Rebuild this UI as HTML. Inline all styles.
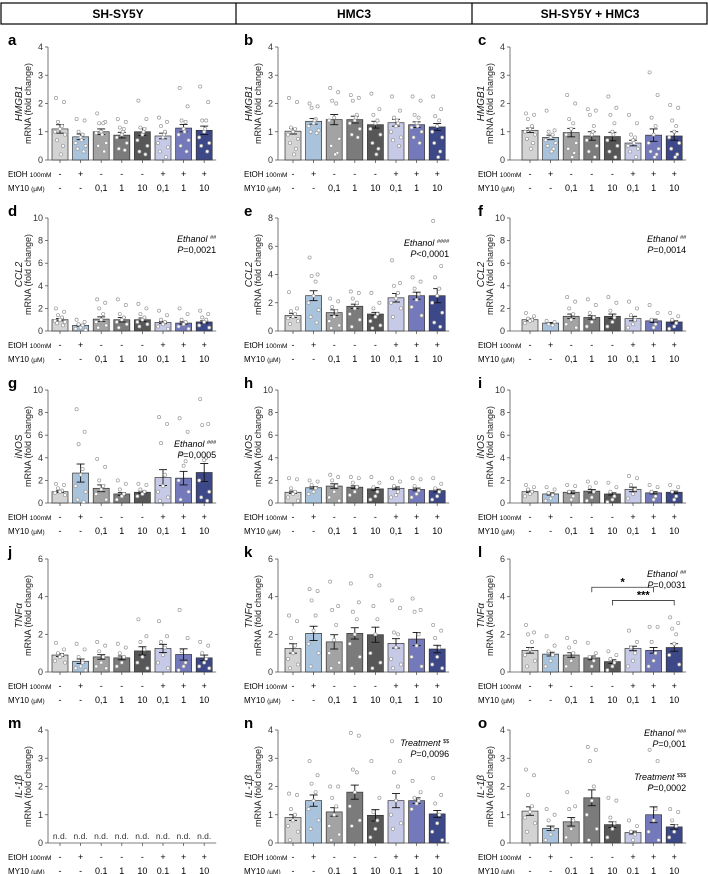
<!DOCTYPE html>
<html><head><meta charset="utf-8">
<style>
html,body{margin:0;padding:0;background:#fff;}
svg{display:block;font-family:"Liberation Sans",Arial,sans-serif;}
</style></head>
<body>
<svg id="fig" width="708" height="874" viewBox="0 0 708 874">
  <g>
    <rect x="1" y="3" width="706" height="21" fill="none" stroke="#000" stroke-width="1.2"/>
    <line x1="236" y1="3" x2="236" y2="24" stroke="#000" stroke-width="1.2"/>
    <line x1="472" y1="3" x2="472" y2="24" stroke="#000" stroke-width="1.2"/>
    <text x="118" y="18" text-anchor="middle" font-size="12" font-weight="bold">SH-SY5Y</text>
    <text x="354" y="18" text-anchor="middle" font-size="12" font-weight="bold">HMC3</text>
    <text x="590" y="18" text-anchor="middle" font-size="12" font-weight="bold">SH-SY5Y + HMC3</text>
  </g>
</svg>
<script>
// ---- data ----
const groups = ["ctrl","EtOH","MY10 0.1","MY10 1","MY10 10","EtOH+MY10 0.1","EtOH+MY10 1","EtOH+MY10 10"];
const etohLabels = ["-","+","-","-","-","+","+","+"];
const my10Labels = ["-","-","0,1","1","10","0,1","1","10"];
const panelIds = ["a","b","c","d","e","f","g","h","i","j","k","l","m","n","o"];
const genes = ["HMGB1","HMGB1","HMGB1","CCL2","CCL2","CCL2","iNOS","iNOS","iNOS","TNFα","TNFα","TNFα","IL-1β","IL-1β","IL-1β"];
const yMaxes = [4,4,4,10,8,10,10,10,10,6,6,6,4,4,4];
const yStepsArr = [1,1,1,2,2,2,2,2,2,2,2,2,1,1,1];
const means = [
 [1.1,0.82,1.0,0.88,1.0,0.85,1.13,1.05],
 [1.02,1.37,1.43,1.43,1.25,1.32,1.25,1.17],
 [1.05,0.8,0.97,0.85,0.83,0.6,0.88,0.85],
 [1.0,0.5,1.05,1.0,1.0,0.75,0.7,0.8],
 [1.1,2.5,1.3,1.75,1.2,2.35,2.5,2.5],
 [1.0,0.7,1.3,1.2,1.3,1.1,0.9,0.8],
 [1.0,2.65,1.3,0.8,0.95,2.25,2.2,2.7],
 [0.95,1.35,1.5,1.4,1.25,1.3,1.2,1.1],
 [1.0,0.8,0.95,1.05,0.8,1.2,0.9,0.95],
 [0.9,0.57,0.8,0.75,1.12,1.25,0.93,0.75],
 [1.25,2.05,1.6,2.05,1.98,1.52,1.75,1.22],
 [1.15,0.95,0.9,0.75,0.55,1.25,1.15,1.3],
 null,
 [0.9,1.5,1.1,1.8,0.98,1.5,1.5,1.03],
 [1.13,0.52,0.75,1.6,0.65,0.37,1.0,0.57]
];
const sems = [
 [.15,.1,.1,.1,.13,.1,.13,.15],
 [.1,.1,.18,.12,.12,.12,.1,.12],
 [.08,.08,.15,.15,.15,.1,.22,.15],
 [.1,.08,.2,.2,.15,.1,.1,.1],
 [.15,.35,.2,.15,.12,.3,.25,.5],
 [.1,.05,.2,.15,.2,.2,.15,.1],
 [.08,.8,.3,.12,.1,.7,.6,.8],
 [.1,.1,.2,.12,.12,.12,.12,.12],
 [.08,.1,.12,.15,.1,.2,.1,.1],
 [.08,.12,.12,.1,.22,.22,.3,.15],
 [.25,.38,.38,.3,.4,.25,.35,.2],
 [.15,.1,.12,.1,.1,.12,.15,.2],
 null,
 [.1,.2,.15,.25,.2,.25,.1,.12],
 [.15,.08,.15,.28,.1,.05,.28,.08]
];
const dots = [
 [[2.2,2.05,1.35,1.2,1.1,1.0,0.9,0.7,0.5,0.2],[1.45,1.4,1.0,0.9,0.8,0.6,0.5,0.4,0.3,0.7],[1.65,1.35,1.3,1.3,1.0,0.95,0.6,0.5,0.3,0.9],[1.45,1.35,1.15,1.1,0.9,0.8,0.6,0.4,0.35,1.0],[2.1,1.45,1.15,1.1,0.9,0.7,0.5,0.3,0.2,1.0],[1.5,1.35,1.2,1.0,0.8,0.6,0.45,0.3,0.1,0.9],[2.55,1.9,1.4,1.35,1.1,0.9,0.7,0.5,0.3,1.0],[2.6,2.05,1.4,1.4,1.0,0.8,0.6,0.5,0.3,1.1]],
 [[2.2,2.05,1.15,1.1,1.0,0.9,0.75,0.6,0.4,0.2],[2.0,1.9,1.85,1.45,1.3,1.2,1.05,1.0,0.95,1.4],[2.55,2.4,2.1,2.0,1.5,1.4,0.75,0.5,0.25,0.2],[2.3,2.2,2.1,1.6,1.4,1.3,1.1,0.9,0.8,1.5],[2.35,1.8,1.6,1.4,1.3,1.1,0.9,0.6,0.4,0.2],[2.25,1.75,1.5,1.3,1.2,1.0,0.8,0.7,0.5,1.4],[2.25,2.1,1.6,1.5,1.3,1.15,1.0,0.8,0.6,1.2],[2.25,1.8,1.55,1.4,1.2,1.0,0.8,0.6,0.3,0.1]],
 [[1.65,1.6,1.45,1.2,1.1,1.0,0.9,0.75,0.6,0.4],[1.75,1.05,1.0,0.9,0.8,0.7,0.6,0.5,0.4,0.3],[2.3,2.0,1.45,1.3,1.1,0.9,0.6,0.4,0.25,0.1],[1.8,1.75,1.6,1.2,0.9,0.7,0.5,0.3,0.1,1.0],[2.25,1.85,1.6,1.3,1.0,0.7,0.5,0.3,0.1,0.9],[1.6,1.3,0.9,0.8,0.7,0.5,0.4,0.3,0.1,0.6],[3.1,2.3,1.5,1.2,0.9,0.6,0.4,0.3,0.2,0.1],[1.95,1.85,1.4,1.2,1.0,0.8,0.6,0.4,0.2,0.1]],
 [[2.0,1.7,1.4,1.2,1.0,0.9,0.8,0.7,0.5],[1.0,0.8,0.6,0.5,0.3,0.2,0.1],[2.8,2.5,2.0,1.5,1.0,0.8,0.5,0.3],[2.8,2.3,1.5,1.2,1.0,0.8,0.6,0.3],[2.4,2.0,1.5,1.2,1.0,0.8,0.6,0.4],[1.8,1.4,1.0,0.8,0.6,0.4,0.2],[2.0,1.5,1.0,0.8,0.6,0.4,0.2],[1.8,1.5,1.2,1.0,0.8,0.5,0.3]],
 [[2.75,1.6,1.4,1.2,1.0,0.9,0.7,0.5],[5.2,4.0,3.9,3.5,2.5,2.0,1.5,1.0,0.6],[2.3,2.1,1.7,1.4,1.0,0.7,0.4,0.2],[2.8,2.7,2.3,2.0,1.6,1.2,0.8,0.3],[2.7,2.0,1.6,1.2,1.0,0.7,0.4,0.2],[5.0,3.4,3.2,2.7,2.3,2.0,1.6,1.0],[3.8,3.5,3.0,2.6,2.2,1.7,1.1],[7.8,4.6,3.8,3.0,2.5,2.0,1.3,0.6,0.3]],
 [[1.6,1.3,1.1,1.0,0.9,0.7],[0.9,0.8,0.6,0.5],[3.0,2.6,2.0,1.5,1.0,0.6,0.3],[2.8,2.3,1.6,1.2,0.8,0.4],[3.0,2.5,1.8,1.2,0.8,0.4],[2.6,2.0,1.4,1.0,0.6,0.3],[2.3,1.6,1.0,0.6,0.3],[1.6,1.3,1.0,0.7,0.4,0.2]],
 [[1.7,1.6,1.3,1.1,1.0,0.9,0.7],[8.3,6.3,5.2,3.0,2.5,1.5,1.0,0.3,0.1],[3.9,3.2,2.0,1.5,1.2,0.8,0.3],[2.0,1.7,1.2,0.8,0.6,0.3],[1.7,1.6,1.2,1.0,0.8,0.6],[7.6,7.0,5.3,2.5,1.5,1.0,0.5,0.2],[7.5,6.3,4.3,3.7,3.3,2.0,1.0,0.3],[9.2,7.0,6.9,4.0,3.8,2.0,1.0,0.5,0.2]],
 [[2.2,2.1,1.3,1.0,0.8,0.5,0.2],[2.0,1.9,1.6,1.3,1.0,0.8],[2.5,2.3,2.0,1.5,1.0,0.5,0.2],[2.3,2.2,1.8,1.4,1.0,0.7],[2.3,1.8,1.4,1.0,0.6,0.3],[2.2,1.9,1.5,1.0,0.7,0.5],[2.2,2.1,1.5,1.1,0.8,0.5],[2.2,1.7,1.3,1.0,0.6,0.3]],
 [[1.6,1.4,1.2,1.0,0.8,0.6],[1.4,1.2,0.9,0.7,0.4,0.2],[1.6,1.5,1.0,0.6,0.3],[1.9,1.8,1.4,1.0,0.5,0.2],[1.8,1.4,1.0,0.6,0.3,0.1],[2.4,2.2,1.6,1.2,0.8,0.4],[1.6,1.4,1.0,0.6,0.3],[1.6,1.4,1.0,0.6,0.3]],
 [[1.55,1.2,1.0,0.9,0.8,0.6,0.5],[1.5,1.2,0.8,0.5,0.3,0.2,0.1],[1.6,1.4,1.1,0.8,0.5,0.3,0.2],[1.5,1.3,1.0,0.8,0.5,0.3],[2.8,1.9,1.6,1.2,0.8,0.5,0.2],[2.7,1.9,1.6,1.3,0.9,0.5,0.2],[3.3,1.8,1.1,0.5,0.3,0.1],[1.6,1.4,1.0,0.7,0.5,0.3,0.2]],
 [[3.0,2.7,1.8,1.4,1.0,0.7,0.4,0.2],[4.4,4.3,3.8,3.0,2.2,1.5,1.0,0.3],[4.8,3.5,3.3,2.5,1.7,1.0,0.5,0.2],[4.7,3.7,3.2,2.8,2.0,1.5,0.8,0.2],[5.1,4.6,3.5,2.8,2.0,1.0,0.5,0.2],[3.8,3.4,2.1,2.0,1.3,0.7,0.4,0.2],[3.9,3.3,3.2,2.0,1.4,0.8,0.3],[2.5,2.2,1.8,1.3,0.8,0.4,0.2]],
 [[2.5,2.1,2.0,1.6,1.2,0.9,0.6,0.3],[1.9,1.4,1.1,0.9,0.6,0.3],[1.8,1.6,1.3,1.0,0.6,0.3],[1.55,1.0,0.8,0.6,0.3],[1.1,0.9,0.7,0.5,0.3,0.1],[2.2,1.6,1.3,1.0,0.6,0.3],[2.4,2.4,1.6,1.0,0.6,0.3],[2.9,2.6,2.3,2.0,1.5,0.9,0.4]],
 null,
 [[1.75,1.7,1.2,1.0,0.8,0.6,0.4,0.1],[2.9,2.4,2.1,1.8,1.5,1.2,0.8,0.5],[2.0,2.0,1.6,1.3,1.0,0.6,0.3,0.1],[3.9,3.8,2.6,2.5,1.8,1.3,0.8,0.6],[2.9,1.6,1.1,0.8,0.5,0.2],[3.6,2.9,2.5,2.0,1.5,1.0,0.7,0.5],[2.2,1.8,1.6,1.5,1.4,1.2],[2.3,1.7,1.4,1.0,0.7,0.4,0.1]],
 [[2.6,2.4,1.7,1.3,1.1,0.9,0.7,0.4],[1.2,1.0,0.8,0.5,0.3,0.1],[1.8,1.3,1.2,0.8,0.5,0.2],[3.4,3.3,2.9,2.0,1.5,1.0,0.5,0.1],[1.6,1.5,0.9,0.7,0.5,0.2],[0.8,0.6,0.4,0.3,0.1],[3.3,2.9,2.0,1.2,0.8,0.4,0.1],[1.2,1.1,0.8,0.6,0.4,0.2]]
];
const annots = [
 [3,"Ethanol","##","P=0,0021",16],
 [4,"Ethanol","####","P<0,0001",20],
 [5,"Ethanol","##","P=0,0014",16],
 [6,"Ethanol","###","P=0,0005",49],
 [11,"Ethanol","##","P=0,0031",10],
 [13,"Treatment","$$","P=0,0096",8],
 [14,"Ethanol","###","P=0,001",-2],
 [14,"Treatment","$$$","P=0,0002",42]
];
const bracketFrom = [3,4];
const bracketTo = [6,7];
const bracketLevel = [4.5,3.8];
const bracketStars = ["*","***"];

// ---- layout ----
const colors = ["#d3d3d3","#a9c3dd","#a3a3a3","#7b7b7b","#575757","#c7cae6","#7379ba","#3d4888"];
const colAxisX = [48,278,510];
const colFirst = [60,293,530];
const colLeft = [4,240,474];
const rowZero = [160,331,503,672,843];
const plotH = 113;
const spacing = 20.6, barW = 16;
const NS = "http://www.w3.org/2000/svg";
const svg = document.getElementById("fig");
function mk(tag, attrs, parent){const e=document.createElementNS(NS,tag);for(const k in attrs)e.setAttribute(k,attrs[k]);parent.appendChild(e);return e;}
const jit = [-4,4,-2,2,0,-5,5,-3,3,1,-1];

panelIds.forEach((pid,p)=>{
  const col=p%3,row=Math.floor(p/3);
  const ax=colAxisX[col],x0=colFirst[col],zero=rowZero[row],top=zero-plotH;
  const yMax=yMaxes[p],step=yStepsArr[p];
  const y=v=>zero-v/yMax*plotH;
  const xc=i=>x0+i*spacing;
  const g=mk("g",{},svg);
  
  
  const L=mk("text",{x:colLeft[col]+4,y:top-2,"font-size":15,"font-weight":"bold"},g);L.textContent=pid;
  
  
  const ya=mk("g",{},g);
  
  
  mk("line",{x1:ax,y1:top,x2:ax,y2:zero,stroke:"#555","stroke-width":0.8},ya);
  for(let v=0;v<=yMax+1e-9;v+=step){
    mk("line",{x1:ax-3,y1:y(v),x2:ax,y2:y(v),stroke:"#555","stroke-width":0.8},ya);
    const t=mk("text",{x:ax-5,y:y(v)+3,"text-anchor":"end","font-size":9,fill:"#333"},ya);t.textContent=v;
  }
  const mid=(top+zero)/2;
  const yt=mk("text",{transform:`translate(${ax-26},${mid}) rotate(-90)`,"text-anchor":"middle","font-size":10,"font-style":"italic",fill:"#222"},g);
  yt.textContent=genes[p];
  
  
  const yt2=mk("text",{transform:`translate(${ax-17},${mid}) rotate(-90)`,"text-anchor":"middle","font-size":9,fill:"#222"},g);
  yt2.textContent="mRNA (fold change)";
  
  
  const xEnd=xc(7)+12;
  mk("line",{x1:ax,y1:zero,x2:xEnd,y2:zero,stroke:"#555","stroke-width":0.8},g);
  for(let i=0;i<8;i++){
    mk("line",{x1:xc(i),y1:zero,x2:xc(i),y2:zero+3,stroke:"#555","stroke-width":0.8},g);
    const e=mk("text",{x:xc(i),y:zero+17,"text-anchor":"middle","font-size":9},g);e.textContent=etohLabels[i];
    
    
    const m=mk("text",{x:xc(i),y:zero+31,"text-anchor":"middle","font-size":9},g);m.textContent=my10Labels[i];
    
    
  }
  const el=mk("text",{x:colLeft[col]+4,y:zero+17,"font-size":8},g);
  el.innerHTML='EtOH <tspan font-size="6.5">100mM</tspan>';
  
  
  const ml=mk("text",{x:colLeft[col]+4,y:zero+31,"font-size":8},g);
  ml.innerHTML='MY10 <tspan font-size="6.5">(µM)</tspan>';
  
  
  if(!means[p]){
    for(let i=0;i<8;i++){const t=mk("text",{x:xc(i),y:zero-4,"text-anchor":"middle","font-size":8.5,fill:"#333"},g);t.textContent="n.d.";
      
      }
    return;
  }
  for(let i=0;i<8;i++){
    const bg=mk("g",{},g);
    
    
    const mv=means[p][i],se=sems[p][i];
    mk("rect",{x:xc(i)-barW/2,y:y(mv),width:barW,height:zero-y(mv),fill:colors[i],stroke:"#333","stroke-width":0.7},bg);
    mk("line",{x1:xc(i),y1:y(mv+se),x2:xc(i),y2:y(mv-se),stroke:"#111","stroke-width":0.9},bg);
    mk("line",{x1:xc(i)-4,y1:y(mv+se),x2:xc(i)+4,y2:y(mv+se),stroke:"#111","stroke-width":0.9},bg);
    mk("line",{x1:xc(i)-4,y1:y(mv-se),x2:xc(i)+4,y2:y(mv-se),stroke:"#111","stroke-width":0.9},bg);
    dots[p][i].forEach((d,k)=>{
      mk("circle",{cx:xc(i)+jit[k%jit.length],cy:y(d),r:1.6,fill:"#fff",stroke:"#999","stroke-width":0.7},bg);
    });
  }
  annots.filter(a=>a[0]===p).forEach(a=>{
    const rx=xc(7)+12;
    const t=mk("text",{x:rx,y:top+a[4]+8,"text-anchor":"end","font-size":9,"font-style":"italic"},g);
    t.innerHTML=a[1]+' <tspan font-size="5.5" dy="-3" font-style="normal">'+a[2]+'</tspan>';
    
    
    const t2=mk("text",{x:rx,y:top+a[4]+19,"text-anchor":"end","font-size":9},g);
    t2.innerHTML='<tspan font-style="italic">P</tspan>'+a[3].slice(1);
    
    
  });
  if(pid==="l"){
    bracketFrom.forEach((f,k)=>{
      const by=y(bracketLevel[k]);
      const b=mk("g",{},g);
      
      
      mk("path",{d:`M${xc(f)},${by+5} V${by} H${xc(bracketTo[k])} V${by+5}`,fill:"none",stroke:"#333","stroke-width":0.8},b);
      const s=mk("text",{x:(xc(f)+xc(bracketTo[k]))/2,y:by-2,"text-anchor":"middle","font-size":11,"font-weight":"bold"},b);
      s.textContent=bracketStars[k];
    });
  }
});
</script>
</body></html>
